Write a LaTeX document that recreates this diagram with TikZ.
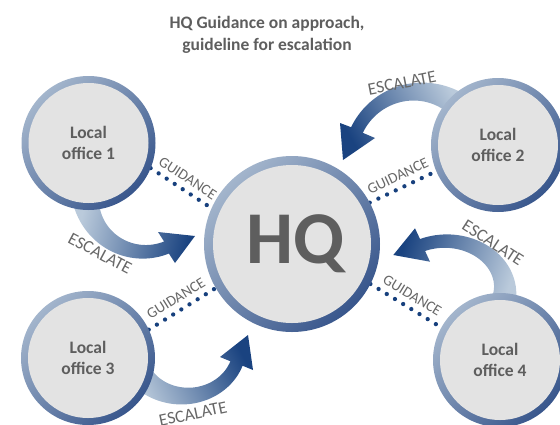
\documentclass[tikz,border=0pt]{standalone}
\usepackage{fontspec}
\setmainfont{Carlito}
\usetikzlibrary{backgrounds}
\definecolor{ringlight}{HTML}{A3B5CC}
\definecolor{ringdark}{HTML}{38568C}
\definecolor{cfill}{HTML}{E3E3E3}
\definecolor{arrl}{HTML}{BACADB}
\definecolor{arrd}{HTML}{1A4380}
\definecolor{dotblue}{HTML}{17407D}
\definecolor{txtgray}{HTML}{5E5E5E}
\definecolor{lblgray}{HTML}{676767}
\tikzset{
  office/.style={circle, inner sep=0pt, outer sep=0pt, minimum size=134pt,
    top color=ringlight, bottom color=ringdark, shading angle=45,
    path picture={\fill[cfill] (path picture bounding box.center) circle[radius=60pt];},
    font=\bfseries\fontsize{17.5}{21.5}\selectfont, text=txtgray, align=center},
  hub/.style={circle, inner sep=0pt, outer sep=0pt, minimum size=176pt,
    top color=ringlight, bottom color=ringdark, shading angle=45,
    path picture={\fill[cfill] (path picture bounding box.center) circle[radius=79pt];}},
  hubtext/.style={font=\bfseries\fontsize{74.5}{80}\selectfont, text=txtgray, inner sep=0pt},
  titletext/.style={font=\bfseries\fontsize{17.5}{22}\selectfont, text=txtgray, align=center},
  guid/.style={draw=dotblue, line width=4.3pt, line cap=round, dash pattern=on 0pt off 9.6pt},
  guidlbl/.style={sloped, above=4pt, font=\fontsize{15}{18}\selectfont, text=lblgray, inner sep=1pt},
  esclbl/.style={font=\fontsize{17.5}{20}\selectfont, text=lblgray, inner sep=0pt},
  escarrow/.style={left color=arrl, right color=arrd},
}
\begin{document}
\begin{tikzpicture}[x=1pt, y=1pt]
\useasboundingbox (0,-424) rectangle (560,0);

% title
\node[titletext] (title) at (267,-34.5) {HQ Guidance on approach,\\guideline for escalation};

% circles
\node[office] (o1) at (88.5,-143) {Local\\office 1};
\node[office] (o2) at (498,-145) {Local\\office 2};
\node[office] (o3) at (88,-358) {Local\\office 3};
\node[office] (o4) at (500,-360) {Local\\office 4};
\node[hub] (hq) at (292,-244) {};
\node[hubtext] (hqt) at ([xshift=4pt]hq.center) {HQ};

\begin{scope}[on background layer]
% guidance links
\draw[guid] (o1.-22) -- node[guidlbl] {GUIDANCE} (hq.156);
\draw[guid] (hq.28) -- node[guidlbl] {GUIDANCE} (o2.203);
\draw[guid] (o3.25) -- node[guidlbl] {GUIDANCE} (hq.210);
\draw[guid] (hq.-27) -- node[guidlbl] {GUIDANCE} (o4.151);

% escalate arrow 1 (office 1 -> HQ)
\shade[escarrow, shading angle=77]
  plot[domain=0:1, samples=40, variable=\s]
    ({144.4+(59+6.5+6.5*(1-\s)^2)*cos(190+102*\s)}, {-192.8+(59+6.5+6.5*(1-\s)^2)*sin(190+102*\s)})
  -- (175,-263) -- (195,-236) -- (158,-232)
  -- plot[domain=0:1, samples=40, variable=\s]
    ({144.4+(59-6.5-6.5*(\s)^2)*cos(292-102*\s)}, {-192.8+(59-6.5-6.5*(\s)^2)*sin(292-102*\s)})
  -- cycle;

% escalate arrow 2 (office 2 -> HQ)
\shade[escarrow, shading angle=299.5]
  plot[domain=0:1, samples=40, variable=\s]
    ({417.7+(67.3+6.5+6.5*(1-\s)^2)*cos(50+104.5*\s)}, {-159+(67.3+6.5+6.5*(1-\s)^2)*sin(50+104.5*\s)})
  -- (340,-123) -- (343,-160) -- (375,-138)
  -- plot[domain=0:1, samples=40, variable=\s]
    ({417.7+(67.3-6.5-6.5*(\s)^2)*cos(154.5-104.5*\s)}, {-159+(67.3-6.5-6.5*(\s)^2)*sin(154.5-104.5*\s)})
  -- cycle;

% escalate arrow 3 (office 3 -> HQ)
\shade[escarrow, shading angle=116.6]
  plot[domain=0:1, samples=40, variable=\s]
    ({185+(54.8+6.5+6.5*(1-\s)^2)*cos(-150+130*\s)}, {-346.6+(49.4+6.5+6.5*(1-\s)^2)*sin(-150+130*\s)})
  -- (253,-370) -- (248,-335) -- (220,-357)
  -- plot[domain=0:1, samples=40, variable=\s]
    ({185+(54.8-6.5-6.5*(\s)^2)*cos(-20-130*\s)}, {-346.6+(49.4-6.5-6.5*(\s)^2)*sin(-20-130*\s)})
  -- cycle;

% escalate arrow 4 (office 4 -> HQ)
\shade[escarrow, shading angle=251.7]
  plot[domain=0:1, samples=40, variable=\s]
    ({445.7+(59.3+6.5+6.5*(1-\s)^2)*cos(-20+133*\s)}, {-290+(48.9+6.5+6.5*(1-\s)^2)*sin(-20+133*\s)})
  -- (415,-228.3) -- (393.3,-255) -- (430,-261.7)
  -- plot[domain=0:1, samples=40, variable=\s]
    ({445.7+(59.3-6.5-6.5*(\s)^2)*cos(113-133*\s)}, {-290+(48.9-6.5-6.5*(\s)^2)*sin(113-133*\s)})
  -- cycle;
\end{scope}

% escalate labels
\node[esclbl, rotate=-28] (e1) at (100,-253.5) {ESCALATE};
\node[esclbl, rotate=11] (e2) at (402,-83) {ESCALATE};
\node[esclbl, rotate=12] (e3) at (193,-414) {ESCALATE};
\node[esclbl, rotate=-33] (e4) at (493,-243) {ESCALATE};
\end{tikzpicture}
\end{document}
